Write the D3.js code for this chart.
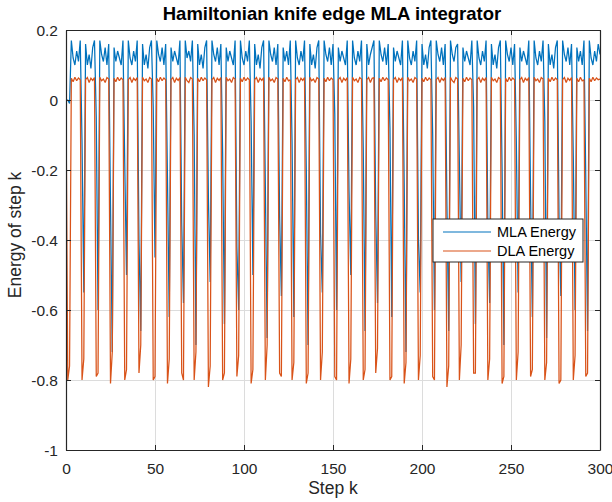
<!DOCTYPE html>
<html>
<head>
<meta charset="utf-8">
<script src="https://cdn.jsdelivr.net/npm/d3@7"></script>
<style>
  html, body { margin: 0; padding: 0; background: #fff; }
  svg { display: block; }
  text { font-family: "Liberation Sans", Arial, Helvetica, sans-serif; }
</style>
</head>
<body>
<div id="chart"></div>
<script>
// ---- data ----
const seriesNames = ["MLA Energy", "DLA Energy"];
const xTicks = [0, 50, 100, 150, 200, 250, 300];
const yTicks = [-1, -0.8, -0.6, -0.4, -0.2, 0, 0.2];

const mla = [
  0, 0, -0.01,
  0.17,0.12,0.10,0.14,0.11,0.17, -0.12,-0.55,
  0.16,0.10,0.13,0.09,0.15,0.17, -0.05,-0.60,
  0.17,0.13,0.11,0.15,0.10,0.16, -0.30,-0.72,
  0.15,0.11,0.14,0.12,0.10,0.17, -0.18,-0.50,
  0.17,0.12,0.10,0.14,0.11,0.17, -0.40,-0.66,
  0.16,0.10,0.13,0.09,0.15,0.17, -0.02,-0.45,
  0.17,0.13,0.11,0.15,0.10,0.16, -0.22,-0.62,
  0.15,0.11,0.14,0.12,0.10,0.17, -0.35,-0.58,
  0.17,0.12,0.14,0.11,0.17, -0.10,-0.70,
  0.16,0.10,0.13,0.09,0.15,0.17, -0.28,-0.52,
  0.17,0.13,0.11,0.15,0.10,0.16, -0.15,-0.64,
  0.15,0.11,0.14,0.12,0.10,0.17, -0.42,-0.60,
  0.17,0.12,0.10,0.14,0.11,0.17, -0.06,-0.50,
  0.16,0.10,0.13,0.09,0.15,0.17, -0.25,-0.68,
  0.17,0.13,0.11,0.15,0.10,0.16, -0.33,-0.56,
  0.15,0.11,0.14,0.10,0.17, -0.12,-0.62,
  0.17,0.12,0.10,0.14,0.11,0.17, -0.20,-0.70,
  0.16,0.10,0.13,0.09,0.15,0.17, -0.38,-0.55,
  0.17,0.13,0.11,0.15,0.10,0.16, -0.04,-0.60,
  0.15,0.11,0.14,0.12,0.10,0.17, -0.26,-0.50,
  0.17,0.12,0.10,0.14,0.11,0.17, -0.14,-0.66,
  0.16,0.10,0.13,0.15,0.17, -0.32,-0.58,
  0.17,0.13,0.11,0.15,0.10,0.16, -0.08,-0.62,
  0.15,0.11,0.14,0.12,0.10,0.17, -0.24,-0.72,
  0.17,0.12,0.10,0.14,0.11,0.17, -0.40,-0.55,
  0.16,0.10,0.13,0.09,0.15,0.17, -0.10,-0.60,
  0.17,0.13,0.11,0.15,0.10,0.16, -0.30,-0.66,
  0.17,0.13,0.11,0.15,0.16, -0.18,-0.52,
  0.15,0.11,0.14,0.12,0.10,0.17, -0.02,-0.64,
  0.17,0.12,0.10,0.14,0.11,0.17, -0.36,-0.58,
  0.16,0.10,0.13,0.09,0.15,0.17, -0.20,-0.70,
  0.17,0.13,0.11,0.15,0.10,0.16, -0.12,-0.55,
  0.15,0.11,0.14,0.12,0.10,0.17, -0.28,-0.62,
  0.17,0.12,0.10,0.14,0.11,0.17, -0.06,-0.68,
  0.16,0.10,0.13,0.09,0.15,0.17, -0.34,-0.56,
  0.17,0.13,0.11,0.15,0.10,0.16, -0.16,-0.60,
  0.15,0.11,0.14,0.10,0.17, -0.22,-0.66,
  0.17,0.12,0.10,0.14,0.11,0.16,0.13
];

const dla = [
  0, -0.80, -0.76,
  0.062,0.052,0.065,0.055,0.063,0.058, -0.80,-0.74,
  0.058,0.064,0.050,0.062,0.056,0.064, -0.79,-0.78,
  0.065,0.055,0.060,0.050,0.064,0.060, -0.81,-0.72,
  0.062,0.052,0.065,0.055,0.063,0.058, -0.80,-0.77,
  0.058,0.064,0.050,0.062,0.056,0.064, -0.78,-0.70,
  0.065,0.055,0.060,0.050,0.064,0.060, -0.80,-0.79,
  0.062,0.052,0.065,0.055,0.063,0.058, -0.81,-0.74,
  0.058,0.064,0.050,0.062,0.056,0.064, -0.78,-0.80,
  0.065,0.055,0.050,0.064,0.060, -0.80,-0.72,
  0.062,0.052,0.065,0.055,0.063,0.058, -0.82,-0.76,
  0.058,0.064,0.050,0.062,0.056,0.064, -0.80,-0.78,
  0.065,0.055,0.060,0.050,0.064,0.060, -0.79,-0.73,
  0.062,0.052,0.065,0.055,0.063,0.058, -0.81,-0.77,
  0.058,0.064,0.050,0.062,0.056,0.064, -0.80,-0.70,
  0.065,0.055,0.060,0.050,0.064,0.060, -0.78,-0.79,
  0.062,0.052,0.065,0.055,0.058, -0.80,-0.75,
  0.058,0.064,0.050,0.062,0.056,0.064, -0.81,-0.78,
  0.065,0.055,0.060,0.050,0.064,0.060, -0.80,-0.72,
  0.062,0.052,0.065,0.055,0.063,0.058, -0.79,-0.80,
  0.058,0.064,0.050,0.062,0.056,0.064, -0.81,-0.74,
  0.065,0.055,0.060,0.050,0.064,0.060, -0.80,-0.77,
  0.058,0.064,0.050,0.062,0.064, -0.78,-0.71,
  0.062,0.052,0.065,0.055,0.063,0.058, -0.80,-0.79,
  0.058,0.064,0.050,0.062,0.056,0.064, -0.81,-0.75,
  0.065,0.055,0.060,0.050,0.064,0.060, -0.80,-0.73,
  0.062,0.052,0.065,0.055,0.063,0.058, -0.79,-0.80,
  0.058,0.064,0.050,0.062,0.056,0.064, -0.82,-0.76,
  0.065,0.055,0.050,0.064,0.060, -0.80,-0.70,
  0.062,0.052,0.065,0.055,0.063,0.058, -0.78,-0.78,
  0.058,0.064,0.050,0.062,0.056,0.064, -0.80,-0.74,
  0.065,0.055,0.060,0.050,0.064,0.060, -0.81,-0.79,
  0.062,0.052,0.065,0.055,0.063,0.058, -0.80,-0.72,
  0.058,0.064,0.050,0.062,0.056,0.064, -0.79,-0.77,
  0.065,0.055,0.060,0.050,0.064,0.060, -0.80,-0.75,
  0.062,0.052,0.065,0.055,0.063,0.058, -0.81,-0.80,
  0.058,0.064,0.050,0.062,0.056,0.064, -0.80,-0.73,
  0.062,0.052,0.065,0.055,0.058, -0.79,-0.78,
  0.062,0.052,0.065,0.055,0.063,0.058,0.060
];

const steps = d3.range(mla.length);

// ---- layout ----
const W = 612, H = 502;
const plot = { left: 66, right: 600, top: 30, bottom: 450 };
const colors = ["#0072BD", "#D95319"];
const axisColor = "#262626";

const svg = d3.select("#chart").append("svg")
  .attr("width", W).attr("height", H);

svg.append("rect").attr("width", W).attr("height", H).attr("fill", "#fff");

const x = d3.scaleLinear().domain([0, 300]).range([plot.left, plot.right]);
const y = d3.scaleLinear().domain([-1, 0.2]).range([plot.bottom, plot.top]);

// grid
const grid = svg.append("g");
grid.selectAll("line.gx").data(xTicks).join("line")
  .attr("x1", d => x(d)).attr("x2", d => x(d))
  .attr("y1", plot.top).attr("y2", plot.bottom)
  .attr("stroke", "#dcdcdc").attr("stroke-width", 1).attr("shape-rendering", "crispEdges");
grid.selectAll("line.gy").data(yTicks).join("line")
  .attr("x1", plot.left).attr("x2", plot.right)
  .attr("y1", d => y(d)).attr("y2", d => y(d))
  .attr("stroke", "#dcdcdc").attr("stroke-width", 1).attr("shape-rendering", "crispEdges");

// lines
const series = [mla, dla];
const lineGen = d3.line().x((d, i) => x(steps[i])).y(d => y(d));
svg.append("clipPath").attr("id", "clip").append("rect")
  .attr("x", plot.left).attr("y", plot.top - 2)
  .attr("width", plot.right - plot.left).attr("height", plot.bottom - plot.top + 2);
const lines = svg.append("g").attr("clip-path", "url(#clip)");
series.forEach((s, si) => {
  lines.append("path")
    .datum(s)
    .attr("d", lineGen)
    .attr("fill", "none")
    .attr("stroke", colors[si])
    .attr("stroke-width", 1.25)
    .attr("stroke-linejoin", "miter")
    .attr("stroke-miterlimit", 2);
});

const fmt = d => String(+d.toFixed(1));

// axes
const xAxis = svg.append("g").attr("transform", `translate(0,${plot.bottom})`)
  .call(d3.axisBottom(x).tickValues(xTicks).tickFormat(fmt).tickSizeInner(-5).tickSizeOuter(0).tickPadding(12));
const xAxisTop = svg.append("g").attr("transform", `translate(0,${plot.top})`)
  .call(d3.axisTop(x).tickValues(xTicks).tickFormat("").tickSizeInner(-5).tickSizeOuter(0));
const yAxis = svg.append("g").attr("transform", `translate(${plot.left},0)`)
  .call(d3.axisLeft(y).tickValues(yTicks).tickFormat(fmt).tickSizeInner(-5).tickSizeOuter(0).tickPadding(8));
const yAxisRight = svg.append("g").attr("transform", `translate(${plot.right},0)`)
  .call(d3.axisRight(y).tickValues(yTicks).tickFormat("").tickSizeInner(-5).tickSizeOuter(0));

[xAxis, xAxisTop, yAxis, yAxisRight].forEach(g => {
  g.select(".domain").attr("stroke", axisColor).attr("stroke-width", 1.2);
  g.selectAll(".tick line").attr("stroke", axisColor).attr("stroke-width", 1);
  g.selectAll(".tick text").attr("fill", axisColor)
    .style("font-family", '"Liberation Sans", Arial, sans-serif')
    .style("font-size", "15.5px");
});
xAxis.selectAll(".tick text").attr("dy", "0.71em").attr("y", 13);
yAxis.selectAll(".tick text").attr("x", -8).attr("dy", "0.35em");

// title
svg.append("text")
  .attr("x", (plot.left + plot.right) / 2 - 1).attr("y", 20)
  .attr("text-anchor", "middle")
  .attr("font-weight", "bold")
  .attr("font-size", "18.5px")
  .attr("fill", "#000")
  .text("Hamiltonian knife edge MLA integrator");

// axis labels
svg.append("text")
  .attr("x", (plot.left + plot.right) / 2).attr("y", 494)
  .attr("text-anchor", "middle")
  .attr("font-size", "17.5px")
  .attr("fill", axisColor)
  .text("Step k");

svg.append("text")
  .attr("transform", `translate(21,${(plot.top + plot.bottom) / 2 - 5}) rotate(-90)`)
  .attr("text-anchor", "middle")
  .attr("font-size", "17.5px")
  .attr("fill", axisColor)
  .text("Energy of step k");

// legend
const leg = svg.append("g");
leg.append("rect")
  .attr("x", 433).attr("y", 219).attr("width", 150).attr("height", 43)
  .attr("fill", "#fff").attr("stroke", axisColor).attr("stroke-width", 1);
seriesNames.forEach((name, i) => {
  const ly = 232 + i * 19;
  leg.append("line")
    .attr("x1", 443).attr("x2", 491).attr("y1", ly).attr("y2", ly)
    .attr("stroke", colors[i]).attr("stroke-width", 1.2);
  leg.append("text")
    .attr("x", 497).attr("y", ly).attr("dy", "0.36em")
    .attr("font-size", "14.5px").attr("fill", "#000")
    .text(name);
});
</script>
</body>
</html>
